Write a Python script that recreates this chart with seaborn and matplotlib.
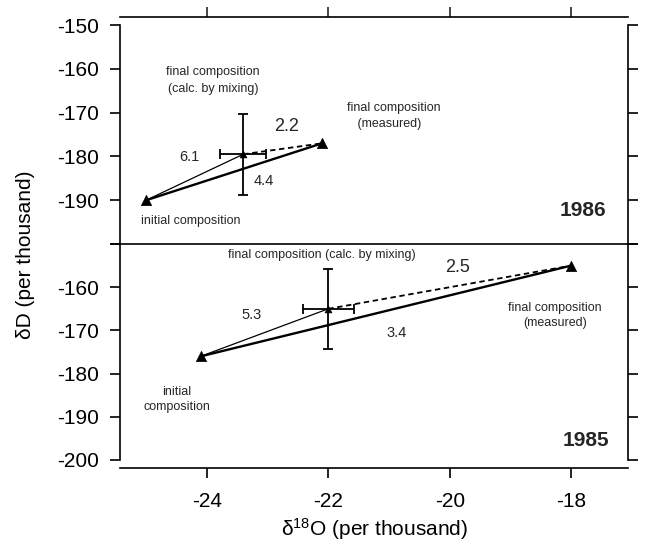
import matplotlib
matplotlib.use("Agg")
import matplotlib.pyplot as plt
import seaborn as sns

# Isotope compositions (per thousand) for the two seasons
years = ["1986", "1985"]
initial_d18o = [-25.0, -24.1]
initial_dD = [-190.0, -176.0]
mixed_d18o = [-23.4, -22.0]
mixed_dD = [-179.5, -165.0]
mixed_err_d18o = [0.38, 0.42]
mixed_err_dD = [9.2, 9.3]
measured_d18o = [-22.1, -18.0]
measured_dD = [-177.0, -155.0]

# Distances written along the connecting lines
dist_init_mixed = ["6.1", "5.3"]
dist_mixed_measured = ["2.2", "2.5"]
dist_init_measured = ["4.4", "3.4"]

y_ticks = [-150, -160, -170, -180, -190, -200]
x_ticks = [-24, -22, -20, -18]

sns.set_theme(style="ticks")
plt.rcParams["font.family"] = ["Liberation Sans", "DejaVu Sans"]
plt.rcParams["mathtext.default"] = "regular"
plt.rcParams["axes.linewidth"] = 1.2

fig = plt.figure(figsize=(6.45, 5.48), dpi=100)
ax_top = fig.add_axes([0.186, 0.5547, 0.788, 0.3996])
ax_bot = fig.add_axes([0.186, 0.1606, 0.788, 0.3941])
axes = [ax_top, ax_bot]

xlim = (-25.43, -17.06)
ylim = (-200, -150)
note_size = 9

for i, ax in enumerate(axes):
    ax.patch.set_alpha(0)
    # thick line: initial -> measured
    sns.lineplot(x=[initial_d18o[i], measured_d18o[i]], y=[initial_dD[i], measured_dD[i]],
                 ax=ax, color="black", lw=1.7, sort=False, estimator=None)
    # thin line: initial -> calculated by mixing
    sns.lineplot(x=[initial_d18o[i], mixed_d18o[i]], y=[initial_dD[i], mixed_dD[i]],
                 ax=ax, color="black", lw=0.9, sort=False, estimator=None)
    # dashed line: calculated -> measured
    sns.lineplot(x=[mixed_d18o[i], measured_d18o[i]], y=[mixed_dD[i], measured_dD[i]],
                 ax=ax, color="black", lw=1.3, sort=False, estimator=None, linestyle=(0, (3, 2)))
    ax.errorbar(mixed_d18o[i], mixed_dD[i], xerr=mixed_err_d18o[i], yerr=mixed_err_dD[i],
                fmt="none", ecolor="black", elinewidth=1.3, capsize=3.6, capthick=1.3, zorder=3)
    sns.scatterplot(x=[initial_d18o[i], measured_d18o[i]], y=[initial_dD[i], measured_dD[i]],
                    ax=ax, marker="^", s=55, color="black", edgecolor="black", linewidth=0.5, zorder=4)
    sns.scatterplot(x=[mixed_d18o[i]], y=[mixed_dD[i]], ax=ax, marker="^", s=24,
                    color="black", edgecolor="black", linewidth=0.5, zorder=4)

    ax.set_xlim(*xlim)
    ax.set_ylim(*ylim)
    ax.set_xlabel("")
    ax.set_ylabel("")
    ax.set_yticks(y_ticks)
    ax.tick_params(axis="y", which="both", left=True, right=True, labelright=False,
                   direction="out", length=7, width=1.2, pad=8, labelsize=15, colors="black")
    for s in ("left", "right"):
        ax.spines[s].set_visible(True)
        ax.spines[s].set_color("black")

# top panel: y tick labels down to -190, x ticks along an offset top line
ax_top.set_yticklabels([str(v) for v in y_ticks[:-1]] + [""])
ax_top.spines["top"].set_visible(True)
ax_top.spines["top"].set_position(("outward", 5.8))
ax_top.spines["top"].set_color("black")
ax_top.spines["bottom"].set_visible(True)
ax_top.spines["bottom"].set_color("black")
ax_top.spines["bottom"].set_zorder(5)
ax_top.set_xticks(x_ticks)
ax_top.xaxis.tick_top()
ax_top.tick_params(axis="x", which="both", top=True, bottom=False, labeltop=False, labelbottom=False,
                   direction="out", length=7, width=1.2)

# bottom panel
ax_bot.set_yticklabels([""] + [str(v) for v in y_ticks[1:]])
ax_bot.spines["top"].set_visible(False)
ax_bot.spines["bottom"].set_visible(True)
ax_bot.spines["bottom"].set_position(("outward", 5.8))
ax_bot.spines["bottom"].set_color("black")
ax_bot.set_xticks(x_ticks)
ax_bot.set_xticklabels([str(v) for v in x_ticks])
ax_bot.tick_params(axis="x", which="both", bottom=True, top=False, direction="out",
                   length=7, width=1.2, pad=10, labelsize=15, colors="black")
ax_bot.set_xlabel(r"$δ^{18}$O (per thousand)", fontsize=15, labelpad=4, color="black")

fig.text(0.040, 0.535, "δD (per thousand)", rotation=90, ha="center", va="center",
         fontsize=15, color="black")

# 1986 annotations
ax_top.text(-23.9, -162.7, "final composition\n(calc. by mixing)", ha="center", va="center",
            fontsize=note_size, linespacing=1.5)
ax_top.text(-21.69, -170.8, "final composition\n   (measured)", ha="left", va="center",
            fontsize=note_size, linespacing=1.5)
ax_top.text(-22.69, -173.1, dist_mixed_measured[0], ha="center", va="center", fontsize=13)
ax_top.text(-24.29, -180.2, dist_init_mixed[0], ha="center", va="center", fontsize=10.5)
ax_top.text(-23.06, -185.6, dist_init_measured[0], ha="center", va="center", fontsize=10.5)
ax_top.text(-25.09, -194.7, "initial composition", ha="left", va="center", fontsize=note_size)
ax_top.text(-17.43, -192.4, years[0], ha="right", va="center", fontsize=15, fontweight="bold")

# 1985 annotations
ax_bot.text(-22.1, -152.6, "final composition (calc. by mixing)", ha="center", va="center",
            fontsize=note_size)
ax_bot.text(-19.87, -155.5, dist_mixed_measured[1], ha="center", va="center", fontsize=13)
ax_bot.text(-23.26, -166.4, dist_init_mixed[1], ha="center", va="center", fontsize=10.5)
ax_bot.text(-20.87, -170.5, dist_init_measured[1], ha="center", va="center", fontsize=10.5)
ax_bot.text(-18.27, -166.6, "final composition\n(measured)", ha="center", va="center",
            fontsize=note_size, linespacing=1.3)
ax_bot.text(-24.49, -186.0, "initial\ncomposition", ha="center", va="center",
            fontsize=note_size, linespacing=1.3)
ax_bot.text(-17.37, -195.4, years[1], ha="right", va="center", fontsize=15, fontweight="bold")

fig.savefig("out.png", dpi=100, facecolor="white")
